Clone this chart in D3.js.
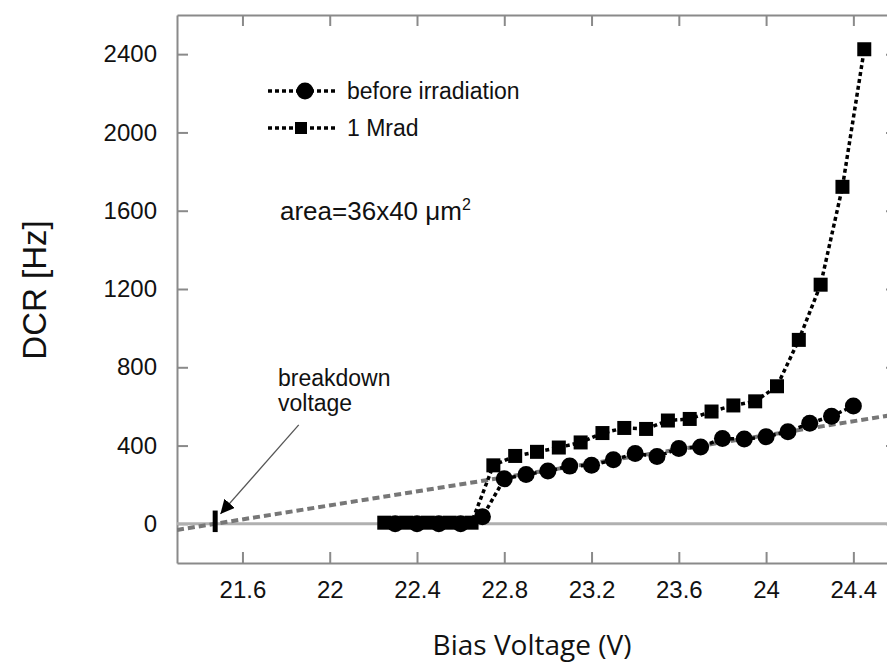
<!DOCTYPE html>
<html>
<head>
<meta charset="utf-8">
<script src="https://cdn.jsdelivr.net/npm/d3@7.9.0/dist/d3.min.js"></script>
<style>
  body { margin: 0; background: #fff; }
  svg { display: block; font-family: "Liberation Sans", Arial, sans-serif; }
</style>
</head>
<body>
<div id="chart"></div>
<script>
// Data
const vBefore = [22.3, 22.4, 22.5, 22.6, 22.7, 22.8, 22.9, 23.0, 23.1, 23.2, 23.3, 23.4, 23.5,
  23.6, 23.7, 23.8, 23.9, 24.0, 24.1, 24.2, 24.3, 24.4];
const dcrBefore = [0, 0, 0, 0, 36, 230, 252, 270, 295, 299, 327, 359, 344,
  385, 393, 436, 433, 445, 471, 514, 550, 602];

const v1Mrad = [22.25, 22.35, 22.45, 22.55, 22.65, 22.75, 22.85, 22.95, 23.05, 23.15, 23.25, 23.35,
  23.45, 23.55, 23.65, 23.75, 23.85, 23.95, 24.05, 24.15, 24.25, 24.35, 24.45];
const dcr1Mrad = [6, 6, 6, 6, 6, 299, 347, 368, 390, 416, 464, 490,
  485, 528, 536, 574, 605, 626, 703, 940, 1222, 1722, 2425];

// linear fit through the breakdown point
const fitV = [21.3, 24.6];
const fitDCR = [-31, 560];
const breakdownV = 21.475;

const xTicks = [21.6, 22, 22.4, 22.8, 23.2, 23.6, 24, 24.4];
const yTicks = [0, 400, 800, 1200, 1600, 2000, 2400];

const legendLabels = ['before irradiation', '1 Mrad'];

const width = 887, height = 666;

const svg = d3.select('#chart').append('svg')
  .attr('width', width)
  .attr('height', height);

const x = d3.scaleLinear().domain([21.3, 24.6]).range([177, 897]);
const y = d3.scaleLinear().domain([-200, 2600]).range([563, 15]);

const axisColor = '#8a8a8a';

svg.append('defs').append('clipPath').attr('id', 'plot-clip')
  .append('rect')
  .attr('x', x.range()[0]).attr('y', y.range()[1])
  .attr('width', x.range()[1] - x.range()[0])
  .attr('height', y.range()[0] - y.range()[1]);

// Axes (ticks inside the frame)
const fmt = d => String(+d.toFixed(1));
const styleAxis = g => {
  g.attr('font-family', null);
  g.select('.domain').attr('stroke', axisColor).attr('stroke-width', 2);
  g.selectAll('.tick line').attr('stroke', axisColor).attr('stroke-width', 2);
  g.selectAll('.tick text').attr('fill', '#111').style('font-size', '24px');
};

svg.append('g')
  .attr('transform', `translate(0,${y.range()[0]})`)
  .call(d3.axisBottom(x).tickValues(xTicks).tickFormat(fmt).tickSizeInner(-11).tickSizeOuter(0).tickPadding(18))
  .call(styleAxis);

svg.append('g')
  .attr('transform', `translate(0,${y.range()[1]})`)
  .call(d3.axisTop(x).tickValues(xTicks).tickFormat('').tickSizeInner(-11).tickSizeOuter(0))
  .call(styleAxis);

svg.append('g')
  .attr('transform', `translate(${x.range()[0]},0)`)
  .call(d3.axisLeft(y).tickValues(yTicks).tickFormat(d3.format('d')).tickSizeInner(-11).tickSizeOuter(0).tickPadding(20))
  .call(styleAxis);

svg.append('g')
  .attr('transform', `translate(${x.range()[1]},0)`)
  .call(d3.axisRight(y).tickValues(yTicks).tickFormat('').tickSizeInner(-11).tickSizeOuter(0))
  .call(styleAxis);

const plot = svg.append('g').attr('clip-path', 'url(#plot-clip)');

// zero line
plot.append('line')
  .attr('x1', x.range()[0]).attr('x2', x.range()[1])
  .attr('y1', y(0)).attr('y2', y(0))
  .attr('stroke', '#b0b0b0').attr('stroke-width', 3);

// fit line
plot.append('line')
  .attr('x1', x(fitV[0])).attr('y1', y(fitDCR[0]))
  .attr('x2', x(fitV[1])).attr('y2', y(fitDCR[1]))
  .attr('stroke', '#777').attr('stroke-width', 4)
  .attr('stroke-dasharray', '7,4');

// breakdown marker
plot.append('line')
  .attr('x1', x(breakdownV)).attr('x2', x(breakdownV))
  .attr('y1', y(-42)).attr('y2', y(68))
  .attr('stroke', '#000').attr('stroke-width', 5);

const line = d3.line().x(d => x(d[0])).y(d => y(d[1]));
const before = vBefore.map((v, i) => [v, dcrBefore[i]]);
const mrad = v1Mrad.map((v, i) => [v, dcr1Mrad[i]]);

const sq = 14, rad = 8.5;

[mrad, before].forEach(series => {
  plot.append('path')
    .datum(series)
    .attr('d', line)
    .attr('fill', 'none')
    .attr('stroke', '#000')
    .attr('stroke-width', 3.5)
    .attr('stroke-dasharray', '4,3');
});

plot.append('g').selectAll('rect')
  .data(mrad)
  .join('rect')
  .attr('x', d => x(d[0]) - sq / 2)
  .attr('y', d => y(d[1]) - sq / 2)
  .attr('width', sq).attr('height', sq)
  .attr('fill', '#000');

plot.append('g').selectAll('circle')
  .data(before)
  .join('circle')
  .attr('cx', d => x(d[0]))
  .attr('cy', d => y(d[1]))
  .attr('r', rad)
  .attr('fill', '#000');

// Legend
const legend = svg.append('g');
legendLabels.forEach((label, i) => {
  const ly = 91 + i * 37;
  legend.append('line')
    .attr('x1', 268).attr('x2', 338).attr('y1', ly).attr('y2', ly)
    .attr('stroke', '#000').attr('stroke-width', 3.5).attr('stroke-dasharray', '4,3');
  if (i === 0) {
    legend.append('circle').attr('cx', 305).attr('cy', ly).attr('r', rad).attr('fill', '#000');
  } else {
    legend.append('rect').attr('x', 301 - 6).attr('y', ly - 6).attr('width', 12).attr('height', 12).attr('fill', '#000');
  }
  legend.append('text')
    .attr('x', 347).attr('y', ly)
    .attr('dy', '0.35em')
    .style('font-size', '23px')
    .attr('fill', '#111')
    .text(label);
});

// area note
const area = svg.append('text')
  .attr('x', 280).attr('y', 220)
  .style('font-size', '26px')
  .attr('fill', '#111');
area.append('tspan').text('area=36x40 \u03bcm');
area.append('tspan').attr('dy', -10).style('font-size', '16px').text('2');

// breakdown annotation
svg.append('text')
  .attr('x', 278).attr('y', 386)
  .style('font-size', '23px').attr('fill', '#111')
  .text('breakdown');
svg.append('text')
  .attr('x', 278).attr('y', 411)
  .style('font-size', '23px').attr('fill', '#111')
  .text('voltage');

svg.append('defs').append('marker')
  .attr('id', 'arrow')
  .attr('viewBox', '0 0 10 10')
  .attr('refX', 10).attr('refY', 5)
  .attr('markerWidth', 14).attr('markerHeight', 14)
  .attr('markerUnits', 'userSpaceOnUse')
  .attr('orient', 'auto')
  .append('path').attr('d', 'M0,0 L10,5 L0,10 Z').attr('fill', '#000');

svg.append('line')
  .attr('x1', x(21.858)).attr('y1', y(506))
  .attr('x2', x(21.499)).attr('y2', y(51))
  .attr('stroke', '#555').attr('stroke-width', 1.3)
  .attr('marker-end', 'url(#arrow)');

// Axis titles
svg.append('text')
  .attr('transform', 'translate(46,290) rotate(-90)')
  .attr('text-anchor', 'middle')
  .style('font-size', '33px').attr('fill', '#111')
  .text('DCR [Hz]');

svg.append('text')
  .attr('x', 532).attr('y', 655)
  .attr('text-anchor', 'middle')
  .style('font-family', '"Open Sans", "Noto Sans", sans-serif')
  .style('font-size', '28px').attr('fill', '#111')
  .text('Bias Voltage (V)');
</script>
</body>
</html>
